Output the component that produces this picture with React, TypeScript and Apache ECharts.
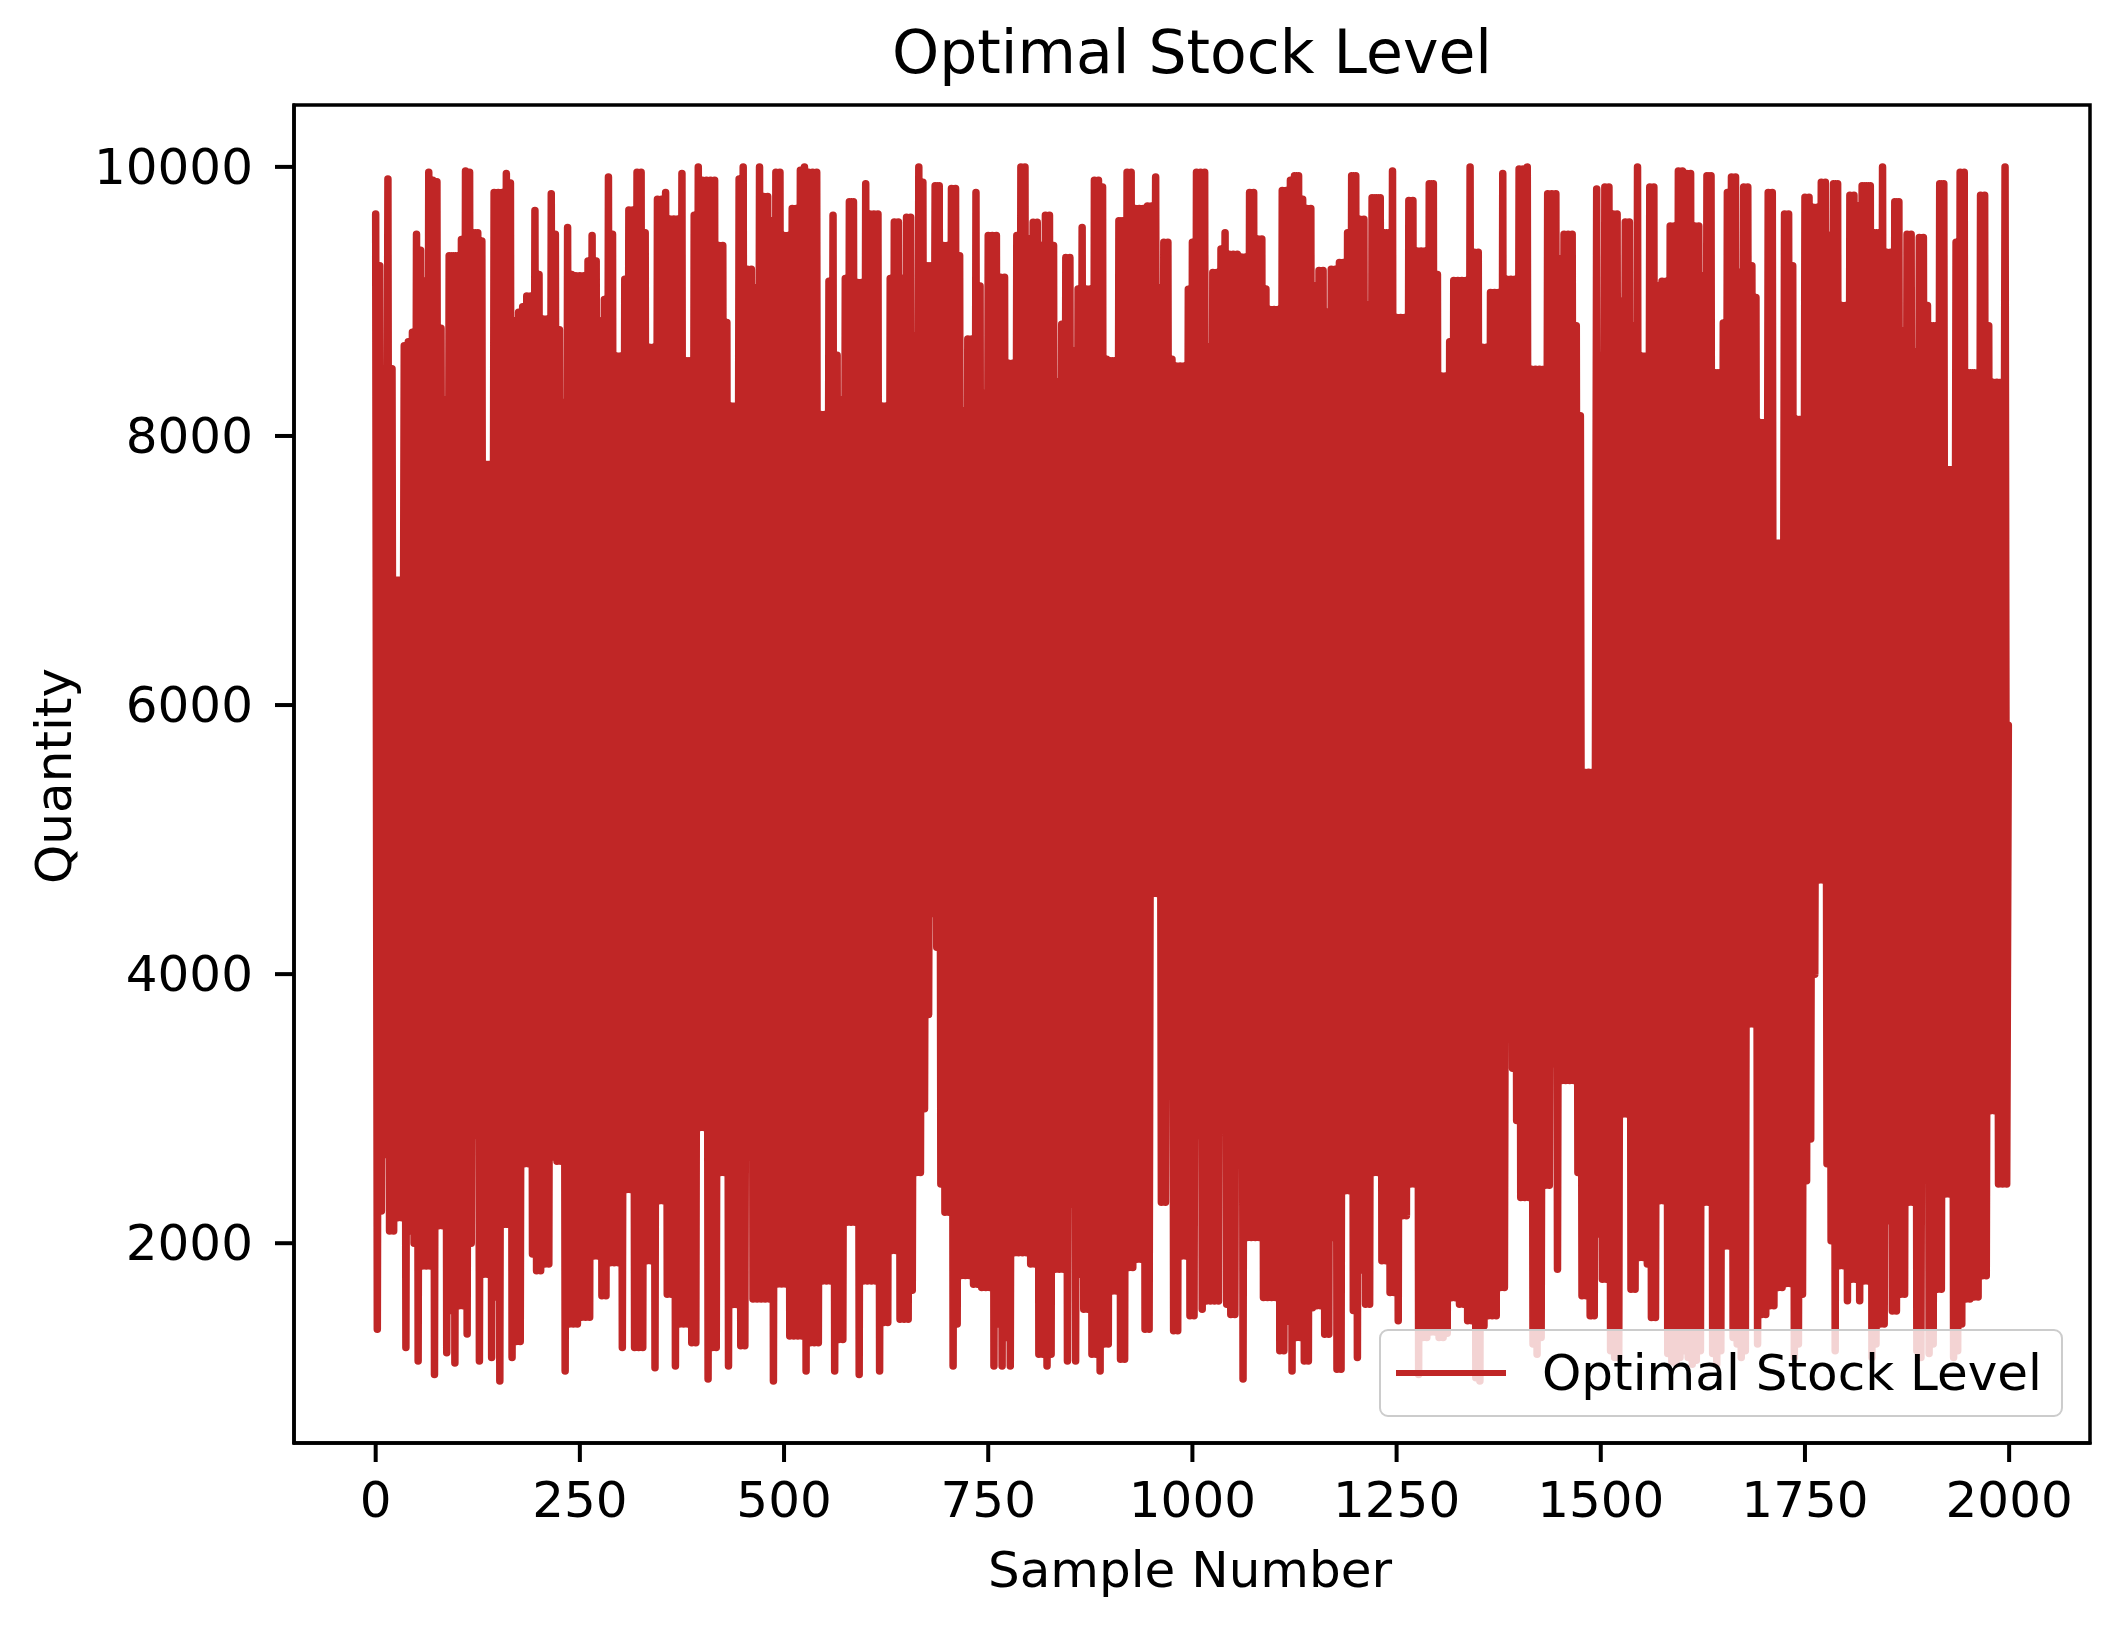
import React, { useEffect, useRef } from "react";
import * as echarts from "echarts";

const chartTitle = "Optimal Stock Level";
const seriesName = "Optimal Stock Level";
const xAxisTitle = "Sample Number";
const yAxisTitle = "Quantity";
const xTickValues = [0, 250, 500, 750, 1000, 1250, 1500, 1750, 2000];
const yTickValues = [2000, 4000, 6000, 8000, 10000];

// Upper extremes of the trace, read every 5 samples (samples 0, 5, 10, ...)
const upperReadings = [
  9650, 9265, 8500, 9910, 8500, 6930, 6930, 8670, 8700, 8770, 9500, 9380, 9150, 9960, 9900, 9890, 8800, 8270, 9340, 9340,
  9340, 9460, 9970, 9960, 9510, 9510, 9450, 7790, 7790, 9810, 9810, 9810, 9950, 9880, 8855, 8920, 8960, 9040, 9040, 9675,
  9200, 8870, 8870, 9800, 9500, 8790, 8250, 9550, 9200, 9190, 9190, 9190, 9300, 9490, 9300, 8855, 9015, 9925, 9500, 8595,
  8595, 9165, 9680, 9680, 9960, 9960, 9510, 8660, 8660, 9760, 9760, 9810, 9613, 9613, 9613, 9950, 8560, 8560, 9640, 10000,
  9900, 9900, 9900, 9900, 9415, 9415, 8843, 8223, 8223, 9910, 10000, 9240, 9240, 9100, 10000, 9780, 9780, 9600, 9960, 9960,
  9490, 9490, 9690, 9690, 9975, 10000, 9960, 9960, 9960, 8160, 8160, 9150, 9640, 8600, 8270, 9170, 9740, 9740, 9140, 9140,
  9875, 9650, 9650, 9650, 8223, 8223, 9170, 9590, 9590, 9170, 9625, 9625, 8745, 10000, 9885, 9265, 9265, 9860, 9860, 9415,
  9415, 9840, 9840, 9340, 8185, 8720, 8720, 9810, 9115, 8320, 9490, 9490, 9490, 9180, 9180, 8540, 8540, 9490, 10000, 10000,
  9464, 9588, 9588, 9415, 9640, 9640, 9415, 8400, 8830, 9327, 9327, 8630, 9092, 9550, 9092, 9092, 9900, 9900, 9850, 8570,
  8560, 8560, 9600, 9600, 9960, 9960, 9690, 9690, 9690, 9710, 9710, 9925, 9100, 9440, 9440, 8570, 8520, 8520, 8520, 9090,
  9440, 9960, 9960, 9960, 8660, 9215, 9215, 9390, 9510, 9350, 9350, 9350, 9330, 9330, 9810, 9810, 9464, 9464, 9092, 8940,
  8940, 8940, 9825, 9825, 9900, 9935, 9935, 9760, 9690, 9690, 9115, 9230, 9230, 8920, 9240, 9240, 9290, 9290, 9510, 9935,
  9935, 9610, 9610, 8970, 9770, 9770, 9770, 9510, 9510, 9970, 8880, 8880, 8880, 9750, 9750, 9375, 9375, 9375, 9875, 9875,
  9200, 8445, 8445, 8700, 9155, 9155, 9155, 9155, 10000, 9365, 9365, 8660, 8660, 9067, 9067, 9067, 9950, 9165, 9165, 9165,
  9985, 9985, 10000, 8496, 8496, 8496, 8496, 9800, 9800, 9800, 9315, 9500, 9500, 9500, 8820, 8150, 5500, 5500, 5500, 9835,
  8600, 9850, 9850, 9650, 9650, 9000, 9590, 9590, 8820, 10000, 8595, 8595, 9850, 9850, 9115, 9150, 9150, 9560, 9560, 9970,
  9970, 9950, 9950, 9560, 9560, 9190, 9935, 9935, 8470, 8470, 8840, 9810, 9925, 9925, 9215, 9850, 9850, 9265, 9030, 8100,
  8100, 9810, 9810, 7205, 7205, 9650, 9650, 9265, 8125, 8125, 9775, 9775, 9700, 9700, 9885, 9885, 9490, 9875, 9875, 8970,
  8970, 9790, 9790, 9710, 9860, 9860, 9860, 9510, 9510, 10000, 9365, 9365, 9740, 9740, 8780, 9500, 9500, 8620, 9475, 9475,
  8970, 8820, 8820, 9875, 9875, 7750, 7750, 9440, 9960, 9960, 8470, 8470, 8470, 9790, 9790, 8820, 8400, 8400, 8400, 10000,
];

// Lower extremes of the trace, read every 5 samples (samples 2, 7, 12, ...)
const lowerReadings = [
  1360, 2240, 2660, 2090, 2090, 2190, 2190, 1225, 2090, 2000, 1125, 1830, 1830, 1830, 1025, 2130, 2130, 1186, 1500, 1110,
  1535, 1535, 1325, 2000, 2800, 1125, 1770, 1770, 1150, 1600, 976, 2140, 2140, 1150, 1270, 1270, 2590, 2590, 1920, 1795,
  1795, 1845, 1845, 2640, 2610, 2610, 1050, 1400, 1400, 1400, 1450, 1450, 1450, 1905, 1905, 1610, 1610, 1855, 1855, 1855,
  1225, 2400, 2400, 1225, 1225, 1225, 1870, 1870, 1075, 2315, 2315, 1620, 1620, 1088, 1400, 1400, 1400, 1260, 1260, 2860,
  2860, 990, 1225, 1225, 2525, 2525, 1087, 1545, 1545, 1237, 1237, 2640, 1585, 1585, 1585, 1585, 1585, 976, 1696, 1696,
  1696, 1310, 1310, 1310, 1310, 1050, 1260, 1260, 1260, 1720, 1720, 1720, 1050, 1285, 1285, 2155, 2155, 2155, 1025, 1720,
  1720, 1720, 1720, 1050, 1410, 1410, 1945, 1945, 1435, 1435, 1435, 1650, 2525, 2525, 3000, 3700, 4450, 4200, 2440, 2230,
  2230, 1088, 1400, 1760, 1760, 1760, 1695, 1695, 1670, 1670, 1670, 1088, 1400, 1088, 1300, 1088, 1930, 1930, 1930, 1930,
  1845, 1845, 1175, 1175, 1088, 1175, 1807, 1807, 1807, 1125, 2290, 1125, 1770, 1510, 1510, 1175, 1175, 1050, 1250, 1250,
  1645, 1645, 1137, 1137, 1820, 1820, 1880, 1880, 1360, 1360, 4600, 4600, 2305, 2305, 3135, 1350, 1350, 1905, 1905, 1460,
  1460, 2800, 1510, 1570, 1570, 1570, 1570, 3220, 1547, 1470, 1470, 2990, 990, 2043, 2043, 2043, 2043, 1597, 1597, 1597,
  1597, 1200, 1200, 1420, 1050, 1300, 1300, 1125, 1125, 1520, 1535, 1535, 1323, 1323, 2043, 1063, 1063, 2390, 2390, 1500,
  1150, 1800, 1547, 1547, 2525, 2525, 1870, 1870, 1634, 1634, 1423, 2205, 2205, 2440, 2440, 1025, 1300, 1300, 1340, 1340,
  1300, 1300, 1330, 1595, 1595, 1547, 1547, 1423, 1423, 1000, 976, 1385, 1460, 1460, 1460, 1670, 1670, 3800, 3300, 2912,
  2340, 2340, 2340, 1250, 1175, 1300, 2430, 2430, 3334, 1807, 3210, 3210, 3210, 3210, 2525, 1610, 1610, 1460, 1460, 2068,
  1733, 1733, 1200, 1150, 1150, 2960, 2960, 1658, 1658, 1894, 1894, 1845, 1448, 1448, 2316, 2316, 1180, 1120, 1100, 1150,
  1200, 1150, 1100, 1130, 1200, 2305, 2305, 1180, 1100, 1200, 1980, 1980, 1300, 1250, 1150, 1200, 3630, 3630, 1250, 1470,
  1470, 1535, 1535, 1670, 1670, 1700, 1700, 1150, 1250, 1620, 2465, 2775, 4000, 4700, 4700, 2590, 2018, 1200, 1832, 1832,
  1572, 1733, 1733, 1572, 1720, 1720, 1150, 1250, 1400, 1400, 2167, 1497, 1497, 1620, 1620, 2305, 2305, 1200, 1150, 2738,
  1180, 1250, 1658, 1658, 2366, 2366, 1150, 1200, 1400, 1585, 1585, 1600, 1600, 1758, 1758, 2985, 2985, 2440, 2440, 2440,
];

const readingStep = 5;
const lowerOffset = 2;
const finalSample = 1999;
const finalValue = 5850;

const X_MIN = -100;
const X_MAX = 2099;
const Y_MIN = 515;
const Y_MAX = 10460;

const FONT = '"DejaVu Sans", "Liberation Sans", sans-serif';
const LINE_COLOR = "#C02626";
const TICK_LEN = 19;
const TICK_W = 4;

export default function App() {
  const ref = useRef<HTMLDivElement | null>(null);

  useEffect(() => {
    document.body.style.margin = "0";
    if (!ref.current) return;
    const chart = echarts.init(ref.current, null, { renderer: "svg" });

    const stockLevel: number[][] = [];
    upperReadings.forEach((hi, k) => {
      stockLevel.push([k * readingStep, hi]);
      stockLevel.push([k * readingStep + lowerOffset, lowerReadings[k]]);
    });
    stockLevel.push([finalSample, finalValue]);

    // tick anchor points: x ticks sit on the bottom edge, y ticks on the left edge
    const xTickPoints = xTickValues.map((v) => [v, Y_MIN]);
    const yTickPoints = yTickValues.map((v) => [X_MIN, v]);

    const labelCommon = {
      fontFamily: FONT,
      fontSize: 50,
      color: "#000",
      formatter: (v: number) => String(v),
    };

    chart.setOption({
      animation: false,
      backgroundColor: "#ffffff",
      title: {
        text: chartTitle,
        left: 1192,
        top: 22,
        textAlign: "center",
        padding: 0,
        textStyle: { fontFamily: FONT, fontSize: 60, fontWeight: "normal", color: "#000" },
      },
      grid: {
        left: 294,
        top: 105,
        width: 1796,
        height: 1338,
        show: true,
        borderColor: "#000",
        borderWidth: 3.5,
        backgroundColor: "transparent",
        containLabel: false,
      },
      legend: {
        data: [seriesName],
        left: 1380,
        top: 1330,
        icon: "rect",
        itemWidth: 110,
        itemHeight: 6,
        padding: [14, 20, 14, 16],
        backgroundColor: "rgba(255,255,255,0.8)",
        borderColor: "#cccccc",
        borderWidth: 2,
        borderRadius: 8,
        textStyle: {
          fontFamily: FONT,
          fontSize: 50,
          color: "#000",
          lineHeight: 58,
          padding: [0, 0, 0, 31],
        },
      },
      xAxis: {
        type: "value",
        min: X_MIN,
        max: X_MAX,
        splitLine: { show: false },
        axisLine: { show: true, onZero: false, lineStyle: { color: "#000", width: 3.5 } },
        axisTick: { show: false },
        axisLabel: { ...labelCommon, customValues: xTickValues, margin: 32 },
      },
      yAxis: {
        type: "value",
        min: Y_MIN,
        max: Y_MAX,
        splitLine: { show: false },
        axisLine: { show: true, onZero: false, lineStyle: { color: "#000", width: 3.5 } },
        axisTick: { show: false },
        axisLabel: { ...labelCommon, customValues: yTickValues, margin: 41 },
      },
      graphic: [
        {
          type: "text",
          x: 1190,
          y: 1570,
          style: {
            text: xAxisTitle,
            fontFamily: FONT,
            fontSize: 50,
            fill: "#000",
            align: "center",
            verticalAlign: "middle",
          },
        },
        {
          type: "text",
          x: 54,
          y: 776,
          rotation: Math.PI / 2,
          style: {
            text: yAxisTitle,
            fontFamily: FONT,
            fontSize: 50,
            fill: "#000",
            align: "center",
            verticalAlign: "middle",
          },
        },
      ],
      series: [
        {
          name: seriesName,
          type: "line",
          data: stockLevel,
          symbol: "none",
          showSymbol: false,
          color: LINE_COLOR,
          lineStyle: { color: LINE_COLOR, width: 7.5, cap: "round", join: "round" },
          emphasis: { disabled: true },
          z: 2,
        },
        {
          name: "x ticks",
          type: "custom",
          data: xTickPoints,
          clip: false,
          silent: true,
          z: 10,
          renderItem: (_params: any, api: any) => {
            const p = api.coord([api.value(0), api.value(1)]);
            return {
              type: "line",
              shape: { x1: p[0], y1: p[1], x2: p[0], y2: p[1] + TICK_LEN },
              style: { stroke: "#000", lineWidth: TICK_W },
            };
          },
        },
        {
          name: "y ticks",
          type: "custom",
          data: yTickPoints,
          clip: false,
          silent: true,
          z: 10,
          renderItem: (_params: any, api: any) => {
            const p = api.coord([api.value(0), api.value(1)]);
            return {
              type: "line",
              shape: { x1: p[0] - TICK_LEN, y1: p[1], x2: p[0], y2: p[1] },
              style: { stroke: "#000", lineWidth: TICK_W },
            };
          },
        },
      ],
    });

    return () => {
      chart.dispose();
    };
  }, []);

  return <div ref={ref} style={{ width: 2114, height: 1636 }} />;
}
